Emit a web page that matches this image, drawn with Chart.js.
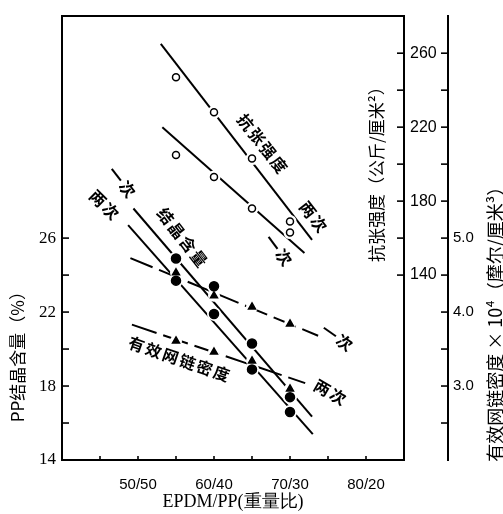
<!DOCTYPE html>
<html>
<head>
<meta charset="utf-8">
<script src="https://cdn.jsdelivr.net/npm/chart.js@4.4.0/dist/chart.umd.min.js"></script>
<style>
html,body{margin:0;padding:0;background:#fff;}
#wrap{width:503px;height:514px;}
</style>
</head>
<body>
<div id="wrap"><canvas id="c" width="503" height="514"></canvas></div>
<script>
// ---------- data ----------
const ratios = [55, 60, 65, 70];                 // EPDM share (%) of EPDM/PP
const tensileTwice = [247, 228, 203, 169];       // 抗张强度 两次 (公斤/厘米²)
const tensileOnce  = [205, 193, 176, 163];       // 抗张强度 一次
const crystOnce    = [24.9, 23.4, 20.3, 17.4];   // PP结晶含量 一次 (%)
const crystTwice   = [23.7, 21.9, 18.9, 16.6];   // PP结晶含量 两次 (%)
const densityOnce  = [4.53, 4.22, 4.07, 3.84];   // 有效网链密度 一次 (×10⁴)
const densityTwice = [3.61, 3.46, 3.34, 2.96];   // 有效网链密度 两次

// fitted straight lines (end points)
const tensileTwiceFitX = [53.0, 72.9];  const tensileTwiceFitY = [265, 159];
const tensileOnceFitX  = [53.2, 71.9];  const tensileOnceFitY  = [220, 152];
const crystOnceFitX    = [49.4, 72.9];  const crystOnceFitY    = [27.6, 16.35];
const crystTwiceFitX   = [48.7, 73.0];  const crystTwiceFitY   = [26.7, 15.4];
const densityOnceFitX  = [49.0, 73.7];  const densityOnceFitY  = [4.73, 3.68];
const densityTwiceFitX = [49.2, 72.0];  const densityTwiceFitY = [3.83, 3.04];

// ticks and tick labels
const xTicks = [45, 50, 55, 60, 65, 70, 75, 80];
const xLabelAt = [50, 60, 70, 80];
const xLabels = ['50/50', '60/40', '70/30', '80/20'];
const crystTicks = [14, 16, 18, 20, 22, 24, 26];
const crystLabelAt = [14, 18, 22, 26];
const tensileTicks = [140, 160, 180, 200, 220, 240, 260];
const tensileLabelAt = [140, 180, 220, 260];
const densityTicks = [2.5, 3, 3.5, 4, 4.5, 5, 5.5, 6, 6.5, 7, 7.5];
const densityLabelAt = [3, 4, 5];

// texts
const xTitle = 'EPDM/PP(重量比)';
const crystTitle = 'PP结晶含量（%）';
const tensileTitle = '抗张强度（公斤/厘米²）';
const densityTitle = '有效网链密度 × 10⁴（摩尔/厘米³）';
// in-plot notes: text, axis, x value, y value, angle
const noteTexts = ['抗张强度', '两次', '一次', '一次', '两次', '结晶含量', '一次', '两次', '有效网链密度'];
const noteAxes  = ['yT', 'yT', 'yT', 'y', 'y', 'y', 'yD', 'yD', 'yD'];
const noteX     = [66.45, 73.16, 68.55, 47.96, 45.66, 55.92, 76.32, 75.39, 55.53];
const noteY     = [210.7, 171.2, 153.1, 28.99, 27.76, 26.0, 3.65, 2.91, 3.36];
const noteAngle = [52, 52, 53, 52, 45, 52, 35, 30, 19];

// ---------- chart ----------
const pts = (xs, ys) => xs.map((x, i) => ({x: x, y: ys[i]}));
const BLACK = '#000';
const CJK = '"Noto Sans CJK SC", sans-serif';

function lineDs(xs, ys, axis, dash) {
  return {type: 'scatter', data: pts(xs, ys), yAxisID: axis, showLine: true,
    borderColor: BLACK, borderWidth: 2, borderDash: dash || [], pointRadius: 0, order: 3};
}
function haloDs(ys, axis, r) {
  return {type: 'scatter', data: pts(ratios, ys), yAxisID: axis, showLine: false,
    pointRadius: r, pointBackgroundColor: '#fff', pointBorderWidth: 0, pointBorderColor: '#fff', order: 2};
}
function markDs(ys, axis, style, r, fill) {
  return {type: 'scatter', data: pts(ratios, ys), yAxisID: axis, showLine: false,
    pointStyle: style, pointRadius: r, pointBackgroundColor: fill, pointBorderColor: BLACK,
    pointBorderWidth: 1.5, order: 1};
}

const tickMarks = {
  id: 'tickMarks',
  afterDraw(chart) {
    const ctx = chart.ctx;
    ctx.save();
    ctx.strokeStyle = BLACK; ctx.lineWidth = 1.6;
    const seg = (x1, y1, x2, y2) => { ctx.beginPath(); ctx.moveTo(x1, y1); ctx.lineTo(x2, y2); ctx.stroke(); };
    const sx = chart.scales.x;
    sx.ticks.forEach(t => { const p = sx.getPixelForValue(t.value); seg(p, sx.top, p, sx.top - 4); });
    const sy = chart.scales.y;
    sy.ticks.forEach(t => { const p = sy.getPixelForValue(t.value); seg(sy.right, p, sy.right + 7, p); });
    const sT = chart.scales.yT;
    sT.ticks.forEach(t => { const p = sT.getPixelForValue(t.value); seg(sT.left, p, sT.left - 7, p); });
    const sD = chart.scales.yD;
    sD.ticks.forEach(t => { const p = sD.getPixelForValue(t.value); seg(sD.left, p, sD.left - 7, p); });
    ctx.restore();
  }
};

const texts = {
  id: 'texts',
  afterDraw(chart) {
    const ctx = chart.ctx, a = chart.chartArea;
    const h = a.bottom - a.top;
    ctx.save();
    ctx.fillStyle = BLACK;
    ctx.textAlign = 'center'; ctx.textBaseline = 'middle';
    const vert = (txt, x, y, size) => {
      ctx.save(); ctx.translate(x, y); ctx.rotate(-Math.PI / 2);
      ctx.font = size + 'px ' + CJK; ctx.fillText(txt, 0, 0); ctx.restore();
    };
    vert(crystTitle, chart.scales.y.left + 18, a.top + 0.758 * h, 17);
    vert(tensileTitle, chart.scales.yT.left - 27, a.top + 0.347 * h, 17);
    vert(densityTitle, chart.scales.yD.right - 8, a.top + 0.684 * h, 18);
    const sx = chart.scales.x;
    noteTexts.forEach((t, i) => {
      const s = chart.scales[noteAxes[i]];
      const px = sx.getPixelForValue(noteX[i]);
      const py = s.getPixelForValue(noteY[i]);
      ctx.save(); ctx.translate(px, py); ctx.rotate(noteAngle[i] * Math.PI / 180);
      ctx.font = 'bold 16px ' + CJK;
      if ('letterSpacing' in ctx) ctx.letterSpacing = '2px';
      ctx.fillText(t, 0, 0); ctx.restore();
    });
    ctx.restore();
  }
};

const axisBorder = {display: true, color: BLACK, width: 2};
const noGrid = {display: false, drawTicks: false};

new Chart(document.getElementById('c'), {
  type: 'scatter',
  data: {
    datasets: [
      markDs(tensileTwice, 'yT', 'circle', 3.5, '#fff'),
      markDs(tensileOnce, 'yT', 'circle', 3.5, '#fff'),
      markDs(crystOnce, 'y', 'circle', 4.5, BLACK),
      markDs(crystTwice, 'y', 'circle', 4.5, BLACK),
      markDs(densityOnce, 'yD', 'triangle', 4, BLACK),
      markDs(densityTwice, 'yD', 'triangle', 4, BLACK),
      haloDs(tensileTwice, 'yT', 6.5),
      haloDs(tensileOnce, 'yT', 6.5),
      haloDs(crystOnce, 'y', 7),
      haloDs(crystTwice, 'y', 7),
      haloDs(densityOnce, 'yD', 6),
      haloDs(densityTwice, 'yD', 6),
      lineDs(tensileTwiceFitX, tensileTwiceFitY, 'yT'),
      lineDs(tensileOnceFitX, tensileOnceFitY, 'yT'),
      lineDs(crystOnceFitX, crystOnceFitY, 'y'),
      lineDs(crystTwiceFitX, crystTwiceFitY, 'y'),
      lineDs(densityOnceFitX, densityOnceFitY, 'yD', [24, 7]),
      lineDs(densityTwiceFitX, densityTwiceFitY, 'yD', [26, 7])
    ]
  },
  options: {
    responsive: false,
    animation: false,
    devicePixelRatio: 1,
    layout: {padding: 0},
    plugins: {legend: {display: false}, tooltip: {enabled: false}},
    events: [],
    scales: {
      x: {
        type: 'linear', position: 'bottom', min: 40, max: 85,
        afterBuildTicks: s => { s.ticks = xTicks.map(v => ({value: v})); },
        afterFit: s => { s.height = 54; },
        grid: noGrid, border: axisBorder,
        ticks: {padding: 16, color: BLACK, autoSkip: false, maxRotation: 0,
          font: {family: '"Liberation Sans", Arial, sans-serif', size: 15},
          callback: v => { const i = xLabelAt.indexOf(v); return i >= 0 ? xLabels[i] : ''; }},
        title: {display: true, text: xTitle, color: BLACK,
          font: {family: '"Liberation Serif", serif', size: 18}, padding: {top: 0, bottom: 1}}
      },
      xTop: {
        type: 'linear', position: 'top', min: 40, max: 85,
        afterFit: s => { s.height = 10; },
        grid: noGrid, border: axisBorder, ticks: {display: false}
      },
      y: {
        type: 'linear', position: 'left', min: 14, max: 38,
        afterBuildTicks: s => { s.ticks = crystTicks.map(v => ({value: v})); },
        afterFit: s => { s.width = 62; },
        grid: noGrid, border: axisBorder,
        ticks: {padding: 6, color: BLACK, autoSkip: false,
          font: {family: '"Liberation Serif", serif', size: 17},
          callback: v => crystLabelAt.includes(v) ? String(v) : ''}
      },
      yT: {
        type: 'linear', position: 'right', weight: 1, min: 40, max: 280,
        afterBuildTicks: s => { s.ticks = tensileTicks.map(v => ({value: v})); },
        afterFit: s => { s.width = 44; },
        grid: noGrid, border: axisBorder,
        ticks: {padding: 6, color: BLACK, autoSkip: false,
          font: {family: '"Liberation Sans", Arial, sans-serif', size: 16},
          callback: v => tensileLabelAt.includes(v) ? String(v) : ''}
      },
      yD: {
        type: 'linear', position: 'right', weight: 2, min: 2, max: 8,
        afterBuildTicks: s => { s.ticks = densityTicks.map(v => ({value: v})); },
        afterFit: s => { s.width = 55; },
        grid: noGrid, border: axisBorder,
        ticks: {padding: 5, color: BLACK, autoSkip: false,
          font: {family: '"Liberation Sans", Arial, sans-serif', size: 15},
          callback: v => densityLabelAt.includes(v) ? v.toFixed(1) : ''}
      }
    }
  },
  plugins: [tickMarks, texts]
});
</script>
</body>
</html>
